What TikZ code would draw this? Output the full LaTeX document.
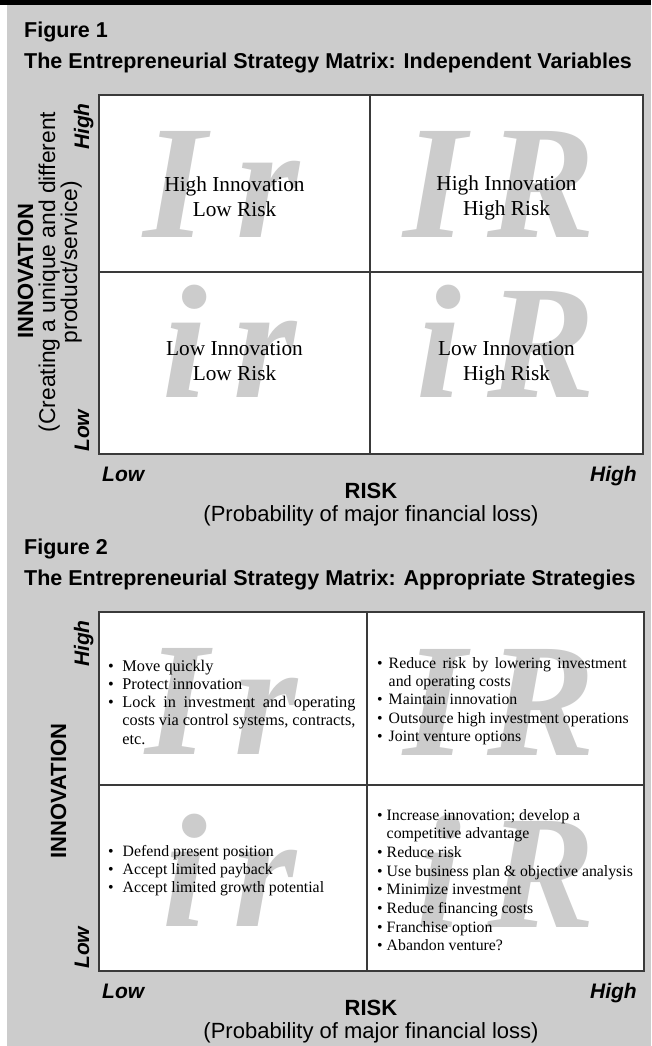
\documentclass[tikz,border=0pt]{standalone}
\usepackage{fontspec}
\setmainfont{Liberation Serif}
\newfontfamily\sans{Liberation Sans}
\definecolor{panel}{HTML}{CCCCCC}
\definecolor{wm}{HTML}{CCCCCC}
\definecolor{edge}{HTML}{3A3A3A}
\tikzset{
  head/.style={font=\sans\bfseries\fontsize{21.5}{24}\selectfont, anchor=base west, inner sep=0},
  axisname/.style={font=\sans\bfseries\fontsize{22}{24}\selectfont, inner sep=0},
  axisnote/.style={font=\sans\fontsize{22.8}{24}\selectfont, inner sep=0},
  losslabel/.style={font=\sans\fontsize{22}{24}\selectfont, inner sep=0, anchor=base},
  level/.style={font=\sans\bfseries\itshape\fontsize{21}{24}\selectfont, inner sep=0},
  wmark/.style={font=\bfseries\itshape\fontsize{162}{162}\selectfont, text=wm, inner sep=0, anchor=base west},
  cell/.style={font=\fontsize{21.3}{25.7}\selectfont, inner sep=0, anchor=base},
  list/.style={font=\fontsize{15.8}{18.4}\selectfont, inner sep=0, anchor=base west},
  frame/.style={draw=edge, line width=1.2pt},
}
\newcommand{\twolines}[2]{\begin{tabular}[t]{@{}c@{}}#1\\#2\end{tabular}}
% a line whose word spaces are stretched to the given width
\newcommand{\fullline}[2]{\makebox[#1][s]{#2}}
\begin{document}
\begin{tikzpicture}[x=1pt,y=-1pt]
\useasboundingbox (0,0) rectangle (651,1046);
% page background and top rule
\fill[panel] (7,4) rectangle (651,1046);
\fill[black] (0,0.5) rectangle (651,5);

% ---------------- Figure 1 ----------------
\node[head] (f1num) at (24,38) {Figure 1};
\node[head] (f1title) at (24,69) {The Entrepreneurial Strategy Matrix: Independent Variables};

\fill[white] (99,95) rectangle (643,454);
\node[wmark] (f1a1) at (143.5,237) {I};
\node[wmark] (f1a2) at (236,237) {r};
\node[wmark] (f1b1) at (403.5,237) {I};
\node[wmark] (f1b2) at (487.5,237) {R};
\node[wmark] (f1c1) at (162.5,397) {i};
\node[wmark] (f1c2) at (233.5,397) {r};
\node[wmark] (f1d1) at (416.5,397) {i};
\node[wmark] (f1d2) at (487.5,397) {R};
\draw[frame] (99,95) rectangle (643,454);
\draw[frame] (370,95) -- (370,454);
\draw[frame] (99,272) -- (643,272);

\node[cell] (f1tl) at (234.5,191) {\twolines{High Innovation}{Low Risk}};
\node[cell] (f1tr) at (506.5,190) {\twolines{High Innovation}{High Risk}};
\node[cell] (f1bl) at (234.5,355) {\twolines{Low Innovation}{Low Risk}};
\node[cell] (f1br) at (506.5,355) {\twolines{Low Innovation}{High Risk}};

\node[axisname, rotate=90, anchor=base] (f1inn) at (33,271) {INNOVATION};
\node[axisnote, rotate=90, anchor=base] (f1note1) at (55,272) {(Creating a unique and different};
\node[axisnote, rotate=90, anchor=base] (f1note2) at (77,262) {product/service)};
\node[level, rotate=90, anchor=base east] (f1hi) at (89,103) {High};
\node[level, rotate=90, anchor=base west] (f1lo) at (89,452) {Low};

\node[level, anchor=base west] (f1xlo) at (102,481) {Low};
\node[level, anchor=base east] (f1xhi) at (637,481) {High};
\node[axisname, anchor=base] (f1risk) at (371,498) {RISK};
\node[losslabel] (f1prob) at (371,521) {(Probability of major financial loss)};

% ---------------- Figure 2 ----------------
\node[head] (f2num) at (24,554) {Figure 2};
\node[head] (f2title) at (24,585) {The Entrepreneurial Strategy Matrix: Appropriate Strategies};

\fill[white] (99,612) rectangle (644,971);
\node[wmark] (f2a1) at (145,754) {I};
\node[wmark] (f2a2) at (234,754) {r};
\node[wmark] (f2b1) at (403.5,755) {I};
\node[wmark] (f2b2) at (487.5,755) {R};
\node[wmark] (f2c1) at (162.5,926) {i};
\node[wmark] (f2c2) at (233.5,926) {r};
\node[wmark] (f2d1) at (416.5,927) {i};
\node[wmark] (f2d2) at (487.5,927) {R};
\draw[frame] (99,612) rectangle (644,971);
\draw[frame] (367,612) -- (367,971);
\draw[frame] (99,785) -- (644,785);

\node[list, font=\fontsize{16.3}{18.3}\selectfont] (f2tl) at (108,671) {\begin{tabular}[t]{@{}l@{\hspace{8.5pt}}l@{}}
  • & Move quickly\\
  • & Protect innovation\\
  • & \fullline{233pt}{Lock in investment and operating}\\
    & \fullline{233pt}{costs via control systems, contracts,}\\
    & etc.
\end{tabular}};
\node[list] (f2tr) at (377,668) {\begin{tabular}[t]{@{}l@{\hspace{6pt}}l@{}}
  • & \fullline{238pt}{Reduce risk by lowering investment}\\
    & and operating costs\\
  • & Maintain innovation\\
  • & Outsource high investment operations\\
  • & Joint venture options
\end{tabular}};
\node[list] (f2bl) at (108,856) {\begin{tabular}[t]{@{}l@{\hspace{9pt}}l@{}}
  • & Defend present position\\
  • & Accept limited payback\\
  • & Accept limited growth potential
\end{tabular}};
\node[list, font=\fontsize{15.8}{18.7}\selectfont] (f2br) at (377,820) {\begin{tabular}[t]{@{}l@{\hspace{4pt}}l@{}}
  • & Increase innovation; develop a\\
    & competitive advantage\\
  • & Reduce risk\\
  • & Use business plan \& objective analysis\\
  • & Minimize investment\\
  • & Reduce financing costs\\
  • & Franchise option\\
  • & Abandon venture?
\end{tabular}};

\node[axisname, rotate=90, anchor=base] (f2inn) at (66,791) {INNOVATION};
\node[level, rotate=90, anchor=base east] (f2hi) at (89,620) {High};
\node[level, rotate=90, anchor=base west] (f2lo) at (89,969) {Low};

\node[level, anchor=base west] (f2xlo) at (102,998) {Low};
\node[level, anchor=base east] (f2xhi) at (637,998) {High};
\node[axisname, anchor=base] (f2risk) at (371,1015) {RISK};
\node[losslabel] (f2prob) at (371,1038) {(Probability of major financial loss)};
\end{tikzpicture}
\end{document}
